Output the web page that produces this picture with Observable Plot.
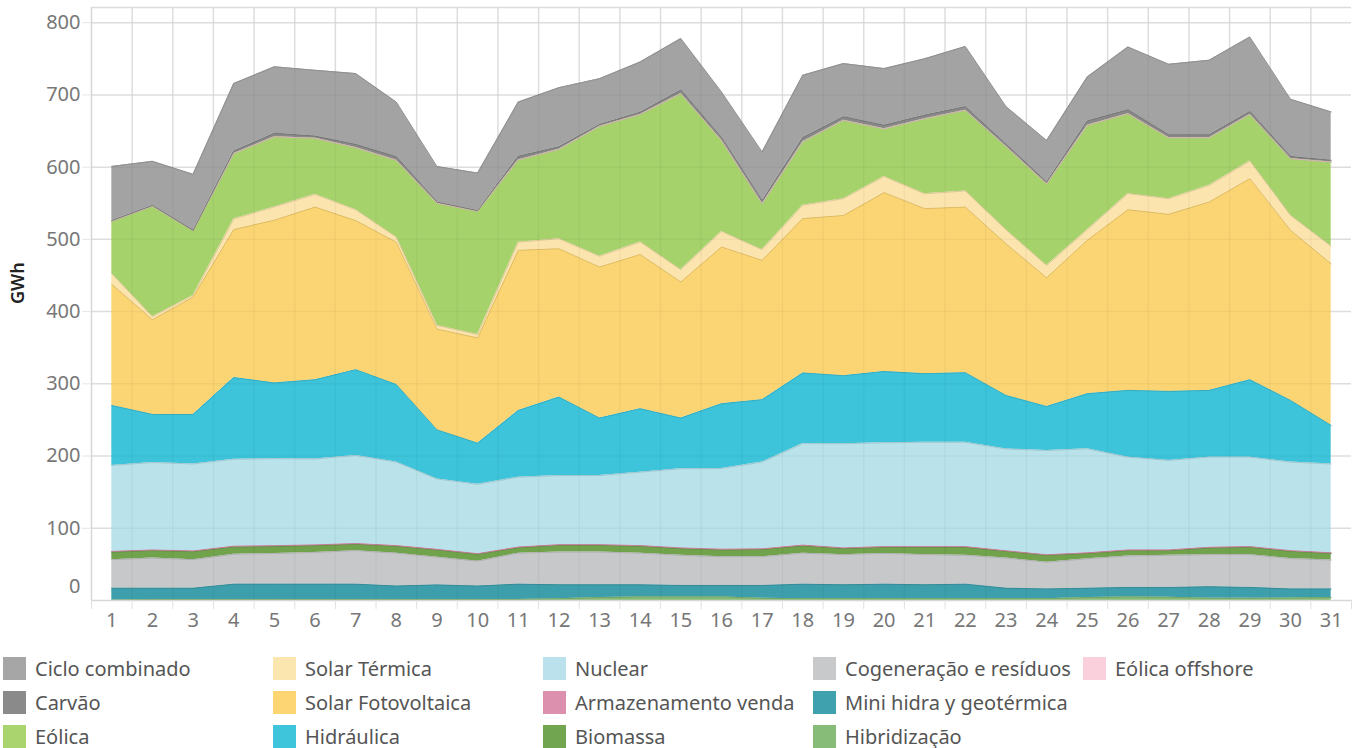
<!DOCTYPE html>
<html><head><meta charset="utf-8">
<script src="https://cdn.jsdelivr.net/npm/d3@7"></script>
<script src="https://cdn.jsdelivr.net/npm/@observablehq/plot@0.6"></script>
<style>
body{margin:0;background:#fff;font-family:"Noto Sans",sans-serif;}
#legend{display:grid;grid-template-rows:repeat(3,34px);grid-auto-flow:column;grid-template-columns:repeat(5,270px);padding-left:3px;margin-top:6px;}
.item{display:flex;align-items:center;font-size:20px;color:#555;white-space:nowrap;}
.sw{width:23px;height:23px;margin-right:9px;flex:none;}
</style></head><body><div id="chart"></div><div id="legend"></div>
<script>
const days = d3.range(1, 32);
const yTicks = [0, 100, 200, 300, 400, 500, 600, 700, 800];
const yMax = 821;

const hibridizacao = [0.5,1.5,1.5,1.5,1.5,1.5,1.5,1.5,1.5,1.5,1.5,2.5,4,5,5,5,3,2.5,2.5,2.5,2.5,2.5,2.5,2.5,4,5,4.5,3,3,3.5,4];
const miniHidra = [16.5,15.5,15.5,21.1,21.1,21.1,21.1,18.5,20.1,18.5,21.1,19.2,17.7,16.7,15.8,15.8,17.8,20.1,19.2,20.1,19.2,20.1,14.5,13.5,13,13,13.5,16,15,12.5,12];
const cogeneracao = [39.5,41.7,39.5,41.4,42.4,44,46.4,45.5,38.4,34.5,42.9,45.3,45.3,43.8,41.7,39.9,39.9,42.9,41.8,42.6,41.8,39.9,41.7,37,40.7,43.6,44.5,44.5,45.5,42,40];
const biomassa = [10.5,10.3,11.1,10,9.7,9.4,8.8,9.5,10,9.5,7.5,9.3,9.3,9.5,9.3,9.3,9.8,10,8.3,8.4,10.1,11.1,9.3,9.5,7.3,7.4,6.5,9.2,10.1,10,9];
const armazenamento = [1,1,1,1.2,1.2,1,1,1,0.8,0.8,1,1,1,1,1,1,1,1.2,1,1,1,1,0.8,0.8,1,1,1,1,1,1,1];
const nuclear = [119,121,120.4,120.3,120.5,119,122,115.6,97.5,96,96.8,95.7,95.7,101.7,109.6,111.7,120.1,140.5,144.2,143.8,144.4,144.4,141,144.3,144,128.5,124,124.8,123.9,122.6,123];
const hidraulica = [83,66.6,68.6,113.1,104.8,109.6,118.7,107.4,67.9,57,92.2,108.6,79.5,87.8,70.1,89.7,86.4,97.8,94.2,98.6,95,96.3,74,60.9,76.3,92.4,95.5,92.4,107.1,85.4,53.4];
const solarFV = [167.7,131.2,162.4,205,225.3,239.1,206.5,197,139.6,145.8,221.8,205.4,209.2,213.5,188.5,217,193,213.8,221.8,247.7,228.5,229.4,210,178.3,212.3,250.1,245.1,260.8,278.4,235.5,223.6];
const solarTermica = [14.7,4.2,2.4,14.6,18.4,17.6,15,7,5,4.6,11.2,14,14.8,17.3,17,21.6,14.7,18.4,23.3,22.3,20.5,22.3,19.4,17,14.8,22.3,21.7,23.1,24.5,20.7,24.3];
const eolica = [72.6,153,89.6,90.6,97,77.7,86,106.4,169.3,170.6,114,123.6,180,176.7,243.8,126,63.7,87.8,108.5,66,104,111.7,115.4,113,144.6,110.7,84.5,66,64.5,78.5,116.7];
const eolicaOffshore = [0,0,0,0,0,0,0,0,0,0,0,0,0,0,0,0,0,0,0,0,0,0,0,0,0,0,0,0,0,0,0];
const carvao = [1,1,0.5,3.5,5,3,4.5,5,1.5,1,5,3.5,2.5,3,5,4,4,6,5,5,5,5,3,2.5,6,5.5,4,4,4,3,2.5];
const cicloCombinado = [75,61,77.5,93.5,92,91,98,75.6,49.2,52,75,81.9,63.5,69.6,71.2,63,67.6,86.2,73.5,78.4,78,83.3,52.2,57.5,60.8,86.9,97.6,103.2,103,79.3,66.9];

// stacking order, bottom to top
const stackSeries = [
  ["Hibridização", hibridizacao],
  ["Mini hidra y geotérmica", miniHidra],
  ["Cogeneração e resíduos", cogeneracao],
  ["Biomassa", biomassa],
  ["Armazenamento venda", armazenamento],
  ["Nuclear", nuclear],
  ["Hidráulica", hidraulica],
  ["Solar Fotovoltaica", solarFV],
  ["Solar Térmica", solarTermica],
  ["Eólica", eolica],
  ["Eólica offshore", eolicaOffshore],
  ["Carvão", carvao],
  ["Ciclo combinado", cicloCombinado]
];
const legendOrder = ["Ciclo combinado","Carvão","Eólica","Solar Térmica","Solar Fotovoltaica","Hidráulica","Nuclear","Armazenamento venda","Biomassa","Cogeneração e resíduos","Mini hidra y geotérmica","Hibridização","Eólica offshore"];
const fillColors = {
  "Ciclo combinado":"#a3a3a3","Carvão":"#888888","Eólica":"#a6d26b","Solar Térmica":"#fbe4ad",
  "Solar Fotovoltaica":"#fbd574","Hidráulica":"#3dc4da","Nuclear":"#b9e2ea","Armazenamento venda":"#dc8fad",
  "Biomassa":"#70a34b","Cogeneração e resíduos":"#c7c8ca","Mini hidra y geotérmica":"#3d9fab",
  "Hibridização":"#86bb75","Eólica offshore":"#f9cddb"
};
const legendColors = {
  "Ciclo combinado":"#a6a6a6","Carvão":"#8a8a8a","Eólica":"#a9d46e","Solar Térmica":"#fbe6b0",
  "Solar Fotovoltaica":"#fdd673","Hidráulica":"#3fc5db","Nuclear":"#bbe2ec","Armazenamento venda":"#dc90ad",
  "Biomassa":"#72a550","Cogeneração e resíduos":"#c8c9cb","Mini hidra y geotérmica":"#3ea1ad",
  "Hibridização":"#86bb78","Eólica offshore":"#fad0dc"
};
const strokeColors = Object.fromEntries(Object.entries(fillColors).map(([k, c]) => [k, d3.color(c).darker(0.35).formatHex()]));

const data = stackSeries.flatMap(([name, vals]) => vals.map((v, i) => ({series: name, day: days[i], value: v})));
const xBounds = d3.range(1.5, 31, 1);
const xTickBounds = d3.range(0.5, 32, 1);

const chart = Plot.plot({
  width: 1358, height: 645,
  marginLeft: 91, marginRight: 7, marginTop: 7, marginBottom: 45,
  x: {domain: [0.5, 31.5], axis: null, label: null},
  y: {domain: [0, yMax], axis: null, label: null},
  color: {type: "identity"},
  style: {fontFamily: "Noto Sans", fontSize: "20px", background: "white", overflow: "visible"},
  marks: [
    Plot.ruleY(yTicks.filter(v => v > 0), {stroke: "#e6e6e6", strokeWidth: 1.5}),
    Plot.ruleX(xBounds, {stroke: "#e6e6e6", strokeWidth: 1.5}),
    Plot.areaY(data, {x: "day", y: "value", z: "series", fill: d => fillColors[d.series]}),
    Plot.lineY(data, Plot.stackY2({x: "day", y: "value", z: "series", stroke: d => strokeColors[d.series], strokeWidth: 1})),
    Plot.ruleY(yTicks.filter(v => v > 0), {stroke: "#000", strokeOpacity: 0.035, strokeWidth: 1.5}),
    Plot.ruleX(xBounds, {stroke: "#000", strokeOpacity: 0.035, strokeWidth: 1.5}),
    Plot.ruleX([0.5], {stroke: "#d6d6d6", strokeWidth: 1.5}),
    Plot.ruleY([0], {stroke: "#d6d6d6", strokeWidth: 1.5}),
    Plot.ruleY([yMax], {stroke: "#dcdcdc", strokeWidth: 1.5}),
    Plot.axisY({ticks: yTicks.filter(v => v > 0), tickSize: 9, tickPadding: 2, stroke: "#e6e6e6", fill: "#777", label: null}),
    Plot.axisY({ticks: [0], tickSize: 0, tickPadding: 11, fill: "#777", dy: -14, label: null}),
    Plot.axisX({ticks: days, tickSize: 0, tickPadding: 12, fill: "#777", label: null}),
    Plot.axisX({ticks: xTickBounds, tickSize: 9, tickFormat: () => "", stroke: "#e0e0e0", label: null}),
    Plot.text(["GWh"], {frameAnchor: "left", rotate: -90, dx: -73, fill: "#222", fontSize: 18, fontWeight: 600})
  ]
});
document.getElementById("chart").appendChild(chart);

const legend = document.getElementById("legend");
for (const name of legendOrder) {
  const item = document.createElement("div");
  item.className = "item";
  const sw = document.createElement("span");
  sw.className = "sw";
  sw.style.background = legendColors[name];
  const t = document.createElement("span");
  t.textContent = name;
  item.appendChild(sw); item.appendChild(t);
  legend.appendChild(item);
}
</script></body></html>
